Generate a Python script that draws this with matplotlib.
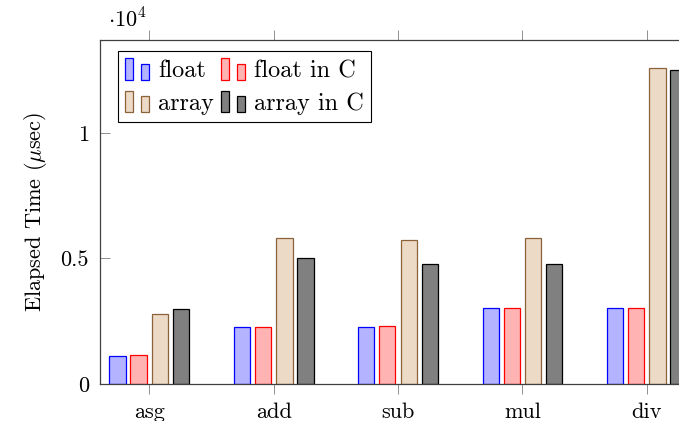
import numpy as np
import matplotlib
matplotlib.use("Agg")
import matplotlib.pyplot as plt
from matplotlib.patches import Rectangle
from matplotlib.legend_handler import HandlerBase

plt.rcParams['font.family'] = ['cmr10', 'DejaVu Serif']
plt.rcParams['mathtext.fontset'] = 'cm'
plt.rcParams['axes.unicode_minus'] = False

# values (elapsed time in usec)
categories = ['asg', 'add', 'sub', 'mul', 'div']
float_py = [1128, 2271, 2258, 3028, 3028]
float_c = [1155, 2271, 2300, 3030, 3030]
array_py = [2800, 5829, 5737, 5805, 12575]
array_c = [2988, 5008, 4768, 4793, 12520]
series_names = ['float', 'float in C', 'array', 'array in C']

series = [float_py, float_c, array_py, array_c]
faces = ['#b3b3ff', '#ffb3b3', '#ecd9c6', '#808080']
edges = ['#0000ff', '#ff0000', '#8c6239', '#000000']


class TwoBars(HandlerBase):
    # pgfplots style ybar legend: two small bars
    def create_artists(self, legend, orig_handle, xdescent, ydescent,
                       width, height, fontsize, trans):
        fc = orig_handle.get_facecolor()
        ec = orig_handle.get_edgecolor()
        w = width * 0.34
        r1 = Rectangle((-xdescent, -ydescent), w, height,
                       facecolor=fc, edgecolor=ec, lw=0.9, transform=trans)
        r2 = Rectangle((-xdescent + width * 0.66, -ydescent), w, height * 0.74,
                       facecolor=fc, edgecolor=ec, lw=0.9, transform=trans)
        return [r1, r2]


fig = plt.figure(figsize=(6.79, 4.21), dpi=100)
ax = fig.add_axes([100 / 679, 37 / 421, 596.6 / 679, 344 / 421])

x = np.arange(len(categories))
offsets = [-0.2555, -0.087, 0.086, 0.255]
handles = []
for vals, off, fc, ec, name in zip(series, offsets, faces, edges, series_names):
    b = ax.bar(x + off, vals, width=0.131, color=fc, edgecolor=ec,
               linewidth=0.9, label=name)
    handles.append(b.patches[0])

ax.set_xlim(-0.397, 4.4)
ax.set_ylim(0, 13705)
ax.set_xticks(x)
ax.set_xticklabels(categories)
ax.set_yticks([0, 5000, 10000])
ax.set_yticklabels(['0', '0.5', '1'])
ax.tick_params(axis='x', direction='out', top=True, length=7.5, width=0.7,
               color='#909090', labelsize=16, pad=6)
ax.tick_params(axis='y', direction='in', right=True, length=7, width=0.7,
               color='#909090', labelsize=16, pad=8)
for s in ax.spines.values():
    s.set_color('#404040')
    s.set_linewidth(0.9)

ax.set_ylabel(r'Elapsed Time ($\mu$sec)', fontsize=16, labelpad=8)
fig.text(108 / 679, 1 - 28 / 421, r'$\cdot 10^4$', fontsize=16,
         ha='left', va='baseline')

# matplotlib fills legend column by column, pgfplots row by row
order = [0, 2, 1, 3]
leg = fig.legend([handles[i] for i in order], [series_names[i] for i in order],
                 ncol=2, loc='upper left',
                 bbox_to_anchor=(117.7 / 679, 1 - 50.7 / 421),
                 bbox_transform=fig.transFigure, borderaxespad=0,
                 fontsize=17.5, handler_map={Rectangle: TwoBars()},
                 handlelength=1.0, handleheight=1.0, handletextpad=0.35,
                 columnspacing=0.3, labelspacing=0.35, borderpad=0.3,
                 fancybox=False, framealpha=1, edgecolor='black')
leg.get_frame().set_linewidth(0.8)

fig.savefig('out.png', dpi=100)
